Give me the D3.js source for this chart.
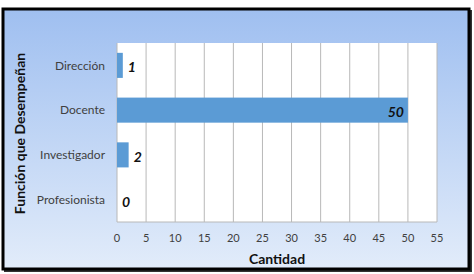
<!DOCTYPE html>
<html>
<head>
<meta charset="utf-8">
<script src="https://cdn.jsdelivr.net/npm/d3@7"></script>
<style>
	body { margin: 0; background: #fff; }
	svg { display: block; font-family: Lato, 'Open Sans', sans-serif; }
</style>
</head>
<body>
<div id="chart"></div>
<script>
const categories = ['Dirección', 'Docente', 'Investigador', 'Profesionista']
const values = [1, 50, 2, 0]
const ticks = [0, 5, 10, 15, 20, 25, 30, 35, 40, 45, 50, 55]

const width = 474
const height = 274
const plot = { left: 117, top: 43, right: 437, bottom: 222 }

const svg = d3
	.select('#chart')
	.append('svg')
	.attr('width', width)
	.attr('height', height)

const grad = svg
	.append('defs')
	.append('linearGradient')
	.attr('id', 'bg')
	.attr('x1', 0)
	.attr('y1', 0)
	.attr('x2', 0)
	.attr('y2', 1)
grad.append('stop').attr('offset', '0%').attr('stop-color', '#9fbff0')
grad.append('stop').attr('offset', '100%').attr('stop-color', '#e2ecfa')

// drop shadow on right / bottom, then frame
svg
	.append('rect')
	.attr('x', 4)
	.attr('y', 10)
	.attr('width', 468)
	.attr('height', 262)
	.attr('fill', '#333')
svg
	.append('rect')
	.attr('x', 3)
	.attr('y', 9)
	.attr('width', 466)
	.attr('height', 260)
	.attr('fill', 'url(#bg)')
	.attr('stroke', '#000')
	.attr('stroke-width', 3)

const x = d3.scaleLinear().domain([0, 55]).range([plot.left, plot.right])
const y = d3
	.scaleBand()
	.domain(categories)
	.range([plot.top, plot.bottom])
	.paddingInner(0.44)
	.paddingOuter(0.22)

svg
	.append('rect')
	.attr('x', plot.left)
	.attr('y', plot.top)
	.attr('width', plot.right - plot.left)
	.attr('height', plot.bottom - plot.top)
	.attr('fill', '#fff')

// vertical grid lines
svg
	.append('g')
	.selectAll('line')
	.data(ticks)
	.join('line')
	.attr('x1', d => x(d))
	.attr('x2', d => x(d))
	.attr('y1', plot.top)
	.attr('y2', plot.bottom)
	.attr('stroke', '#b8b8b8')
	.attr('stroke-width', 1)

svg
	.append('line')
	.attr('x1', plot.left)
	.attr('x2', plot.right)
	.attr('y1', plot.bottom)
	.attr('y2', plot.bottom)
	.attr('stroke', '#b8b8b8')

// x tick labels
svg
	.append('g')
	.selectAll('text')
	.data(ticks)
	.join('text')
	.attr('x', d => x(d))
	.attr('y', 242)
	.attr('text-anchor', 'middle')
	.attr('font-size', 11)
	.attr('fill', '#404040')
	.text(d => d)

// category labels
svg
	.append('g')
	.selectAll('text')
	.data(categories)
	.join('text')
	.attr('x', plot.left - 12)
	.attr('y', d => y(d) + y.bandwidth() / 2)
	.attr('dy', '0.35em')
	.attr('text-anchor', 'end')
	.attr('font-size', 12)
	.attr('fill', '#404040')
	.text(d => d)

// bars
svg
	.append('g')
	.selectAll('rect')
	.data(values)
	.join('rect')
	.attr('x', x(0))
	.attr('y', (d, i) => y(categories[i]))
	.attr('width', d => x(d) - x(0))
	.attr('height', y.bandwidth())
	.attr('fill', '#5b9bd5')

// value labels
svg
	.append('g')
	.selectAll('text')
	.data(values)
	.join('text')
	.attr('x', d => (d >= 50 ? x(d) - 4 : x(d) + 5))
	.attr('y', (d, i) => y(categories[i]) + y.bandwidth() / 2 + 2)
	.attr('dy', '0.35em')
	.attr('text-anchor', d => (d >= 50 ? 'end' : 'start'))
	.attr('font-size', 14)
	.attr('font-weight', 'bold')
	.attr('font-style', 'italic')
	.attr('fill', '#111')
	.text(d => d)

// axis titles
svg
	.append('text')
	.attr('x', (plot.left + plot.right) / 2)
	.attr('y', 264)
	.attr('text-anchor', 'middle')
	.attr('font-size', 14)
	.attr('font-weight', 'bold')
	.attr('fill', '#111')
	.text('Cantidad')

svg
	.append('text')
	.attr('transform', `translate(25, ${(plot.top + plot.bottom) / 2 + 1}) rotate(-90)`)
	.attr('text-anchor', 'middle')
	.attr('font-size', 14)
	.attr('font-weight', 'bold')
	.attr('fill', '#111')
	.text('Función que Desempeñan')
</script>
</body>
</html>
